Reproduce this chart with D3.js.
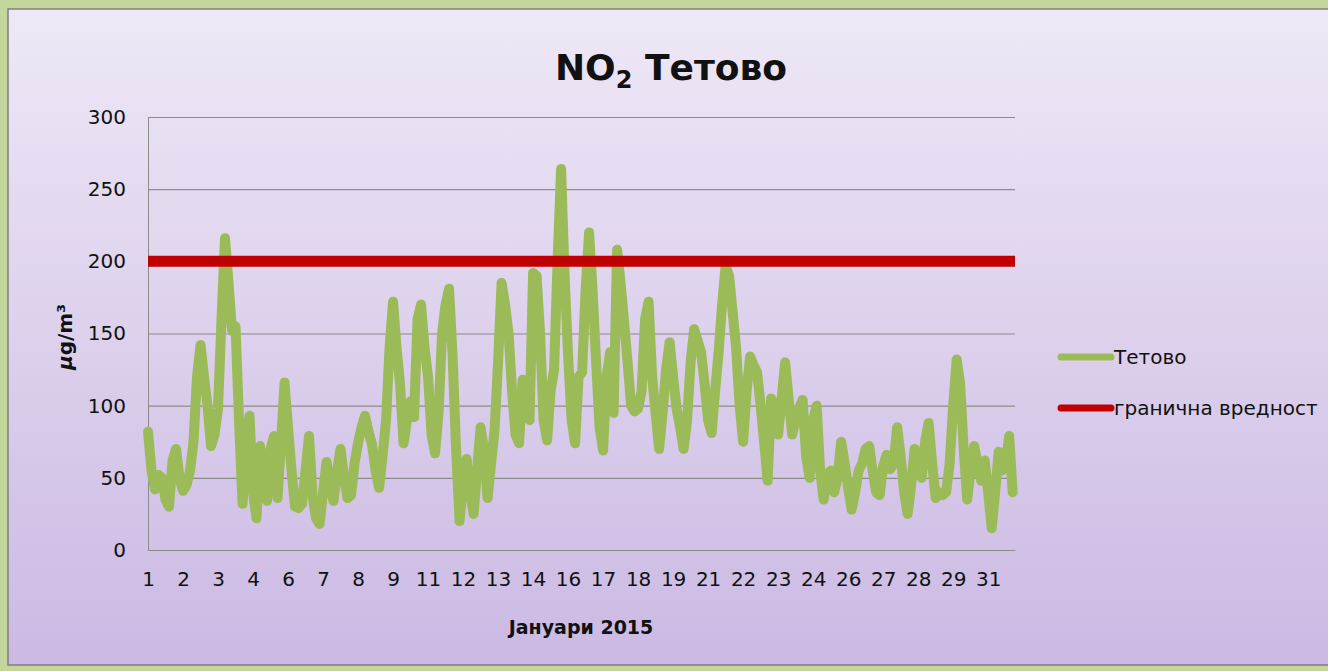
<!DOCTYPE html>
<html>
<head>
<meta charset="utf-8">
<script src="https://cdn.jsdelivr.net/npm/d3@7"></script>
<style>
  html, body { margin: 0; padding: 0; background: #c3d69b; }
  svg { display: block; }
  text { font-family: "DejaVu Sans", sans-serif; fill: #111; }
</style>
</head>
<body>
<div class="board"></div>
<script>
// hourly NO2 for January 2015, every 3 hours
var step = 3;
var tetovo = [
  82, 55, 42, 52, 50, 35, 30, 62,
  70, 50, 41, 45, 55, 75, 120, 142,
  120, 100, 72, 80, 98, 160, 216, 185,
  152, 155, 90, 32, 70, 93, 40, 22,
  72, 50, 34, 70, 79, 36, 75, 116,
  85, 55, 30, 29, 32, 55, 79, 38,
  22, 18, 40, 61, 45, 34, 55, 70,
  50, 36, 38, 60, 74, 85, 93, 82,
  73, 55, 43, 65, 90, 140, 172, 140,
  115, 74, 90, 103, 92, 160, 170, 140,
  120, 80, 67, 95, 150, 170, 181, 135,
  70, 20, 45, 63, 40, 25, 55, 85,
  70, 36, 60, 83, 130, 185, 170, 150,
  110, 80, 74, 118, 100, 90, 192, 190,
  150, 90, 76, 110, 125, 200, 264, 190,
  135, 90, 74, 120, 123, 180, 220, 180,
  130, 85, 69, 120, 137, 95, 208, 185,
  158, 130, 100, 96, 98, 110, 160, 172,
  120, 95, 70, 95, 125, 144, 120, 98,
  85, 70, 90, 130, 153, 145, 137, 115,
  90, 81, 110, 137, 170, 197, 190, 165,
  140, 100, 75, 110, 134, 128, 123, 100,
  75, 48, 105, 100, 80, 105, 130, 105,
  80, 90, 98, 104, 65, 50, 90, 100,
  55, 35, 52, 55, 40, 50, 75, 60,
  43, 28, 40, 55, 60, 70, 72, 55,
  40, 38, 58, 66, 56, 60, 85, 65,
  40, 25, 45, 70, 55, 50, 75, 88,
  60, 36, 40, 38, 40, 60, 100, 132,
  115, 70, 35, 55, 72, 60, 48, 62,
  40, 15, 40, 68, 55, 60, 79, 40
];
var limitValue = 200;
var lastHour = 743;

var yTicks = [0, 50, 100, 150, 200, 250, 300];
var tickHours = [0, 30, 60, 90, 120, 150, 180, 210, 240, 270, 300, 330, 360,
                 390, 420, 450, 480, 510, 540, 570, 600, 630, 660, 690, 720];
var tickLabels = ['1', '2', '3', '4', '6', '7', '8', '9', '11', '12', '13', '14', '16',
                  '17', '18', '19', '21', '22', '23', '24', '26', '27', '28', '29', '31'];
var seriesNames = ['Тетово', 'гранична вредност'];
var seriesColors = ['#9bbb59', '#c00000'];

var W = 1328, H = 671;
var plot = { left: 148, right: 1015, top: 117, bottom: 550 };

var svg = d3.select('.board').append('svg')
  .attr('width', W).attr('height', H);

var defs = svg.append('defs');
var grad = defs.append('linearGradient').attr('id', 'bg')
  .attr('x1', 0).attr('y1', 0).attr('x2', 0).attr('y2', 1);
grad.append('stop').attr('offset', '0%').attr('stop-color', '#eee8f6');
grad.append('stop').attr('offset', '100%').attr('stop-color', '#cbb9e3');

svg.append('rect')
  .attr('x', 8).attr('y', 9).attr('width', W).attr('height', 656)
  .attr('fill', 'url(#bg)').attr('stroke', '#7f7f7f').attr('stroke-width', 1.5);

var x = d3.scaleLinear().domain([0, lastHour]).range([plot.left, plot.right]);
var y = d3.scaleLinear().domain([0, 300]).range([plot.bottom, plot.top]);

// gridlines + y labels
var yAxis = svg.append('g')
  .attr('transform', 'translate(' + plot.left + ',0)')
  .call(d3.axisLeft(y).tickValues(yTicks).tickSize(-(plot.right - plot.left)).tickPadding(22));
yAxis.select('.domain').attr('stroke', '#8c8c8c');
yAxis.selectAll('.tick line').attr('stroke', '#8c8c8c').attr('stroke-width', 1.2);
yAxis.selectAll('.tick text').attr('font-size', 20).attr('font-family', '"DejaVu Sans", sans-serif').attr('fill', '#111');

var xAxis = svg.append('g')
  .attr('transform', 'translate(0,' + plot.bottom + ')')
  .call(d3.axisBottom(x).tickValues(tickHours)
    .tickFormat(function(d, i) { return tickLabels[i]; })
    .tickSize(0).tickPadding(22));
xAxis.select('.domain').attr('stroke', '#8c8c8c').attr('stroke-width', 1.2);
xAxis.selectAll('.tick text').attr('font-size', 20).attr('font-family', '"DejaVu Sans", sans-serif').attr('fill', '#111');

// series
var line = d3.line()
  .x(function(d, i) { return x(i * step); })
  .y(function(d) { return y(d); });

svg.append('path')
  .datum(tetovo)
  .attr('d', line)
  .attr('fill', 'none')
  .attr('stroke', seriesColors[0])
  .attr('stroke-width', 10)
  .attr('stroke-linejoin', 'round')
  .attr('stroke-linecap', 'round');

svg.append('path')
  .datum([0, lastHour])
  .attr('d', d3.line().x(function(d) { return x(d); }).y(function() { return y(limitValue); }))
  .attr('stroke', seriesColors[1])
  .attr('stroke-width', 11);

// title
var title = svg.append('text')
  .attr('x', 671).attr('y', 80)
  .attr('text-anchor', 'middle')
  .attr('font-size', 36).attr('font-weight', 'bold');
title.append('tspan').text('NO');
title.append('tspan').attr('dy', 8).attr('font-size', 24).text('2');
title.append('tspan').attr('dy', -8).text(' Тетово');

// axis titles
var yTitle = svg.append('text')
  .attr('transform', 'translate(72,337) rotate(-90)')
  .attr('text-anchor', 'middle')
  .attr('font-size', 20).attr('font-weight', 'bold');
yTitle.append('tspan').attr('font-style', 'italic').text('µ');
yTitle.append('tspan').text('g/m³');

svg.append('text')
  .attr('x', 581).attr('y', 634)
  .attr('text-anchor', 'middle')
  .attr('font-size', 19).attr('font-weight', 'bold')
  .text('Јануари 2015');

// legend
var legend = svg.append('g').selectAll('g')
  .data(seriesNames)
  .enter().append('g')
  .attr('transform', function(d, i) { return 'translate(1061,' + (357 + i * 51) + ')'; });
legend.append('line')
  .attr('x1', 0).attr('x2', 50)
  .attr('stroke', function(d, i) { return seriesColors[i]; })
  .attr('stroke-width', 7)
  .attr('stroke-linecap', 'round');
legend.append('text')
  .attr('x', 53).attr('dy', '0.35em')
  .attr('font-size', 20)
  .text(function(d) { return d; });
</script>
</body>
</html>
